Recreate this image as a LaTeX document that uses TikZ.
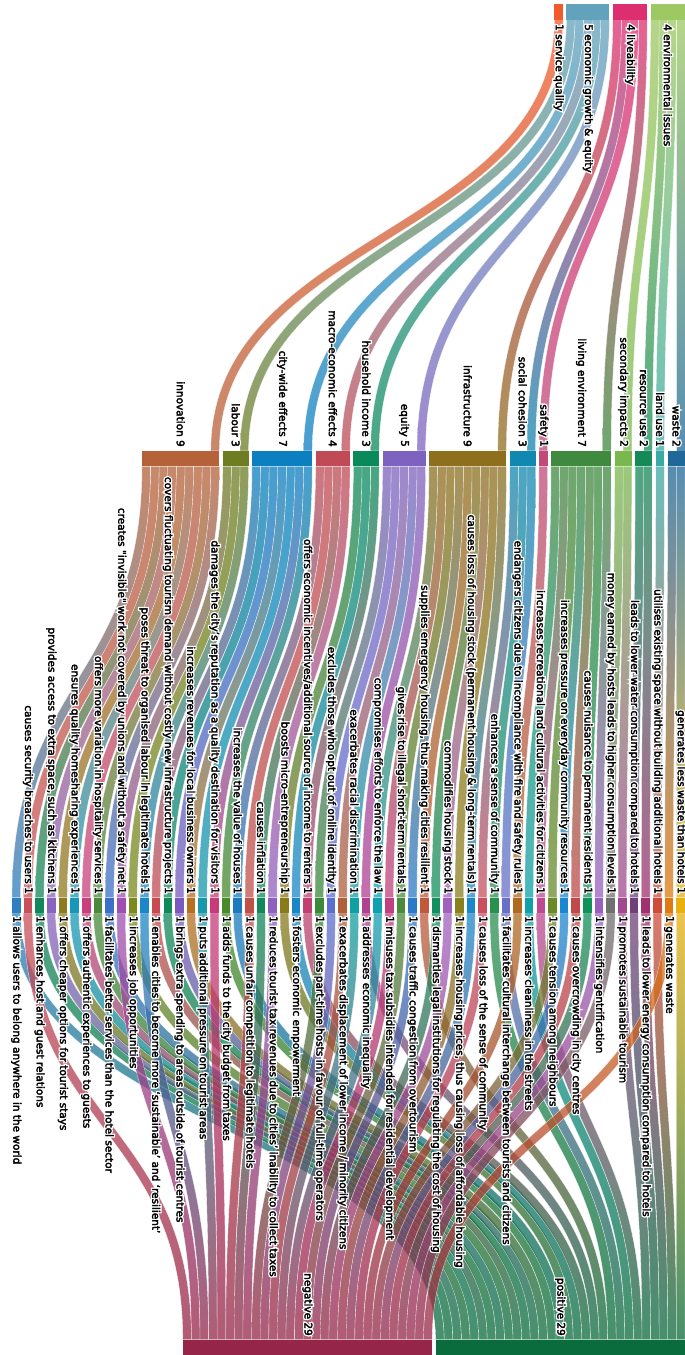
\documentclass[tikz,border=0pt]{standalone}
\usepackage{fontspec}
\setmainfont{DejaVu Sans}
\newfontfamily\textfam{DejaVu Sans}[FakeBold=3]
\newfontfamily\halofam{DejaVu Sans}[FakeBold=28]
\usetikzlibrary{calc}

\definecolor{cSQ}{HTML}{F25A2C}
\definecolor{cEG}{HTML}{62A2BC}
\definecolor{cLV}{HTML}{DD2E70}
\definecolor{cEI}{HTML}{9DC862}
\definecolor{cInno}{HTML}{B5623A}
\definecolor{cLab}{HTML}{6E7D22}
\definecolor{cCity}{HTML}{0B7FC0}
\definecolor{cMacro}{HTML}{C04A55}
\definecolor{cHouse}{HTML}{0A8A5A}
\definecolor{cEq}{HTML}{7E62BF}
\definecolor{cInfra}{HTML}{8E6F1E}
\definecolor{cSoc}{HTML}{1188B0}
\definecolor{cSaf}{HTML}{C04A7A}
\definecolor{cLiv}{HTML}{3F8A3F}
\definecolor{cSec}{HTML}{7AB84E}
\definecolor{cRes}{HTML}{158A58}
\definecolor{cLand}{HTML}{3AAAA5}
\definecolor{cWaste}{HTML}{1F6898}
\definecolor{cPos}{HTML}{0A6B3C}
\definecolor{cNeg}{HTML}{962649}

\newcommand\lfc[2]{\definecolor{lf#1}{HTML}{#2}}
\lfc{1}{2D7FC0}\lfc{2}{C8505A}\lfc{3}{12885A}\lfc{4}{8A62C0}\lfc{5}{8E7A20}
\lfc{6}{1898B8}\lfc{7}{C8407E}\lfc{8}{4A8A3A}\lfc{9}{3A70C8}\lfc{10}{A050B0}
\lfc{11}{7A8A20}\lfc{12}{1A88C8}\lfc{13}{C84A50}\lfc{14}{10885A}\lfc{15}{7A5AC0}
\lfc{16}{B87020}\lfc{17}{1898A8}\lfc{18}{C83A78}\lfc{19}{4A8A2A}\lfc{20}{1A7AC0}
\lfc{21}{C0504A}\lfc{22}{10885A}\lfc{23}{9060C0}\lfc{24}{8A7A1A}\lfc{25}{1A88C8}
\lfc{26}{C04070}\lfc{27}{3A8A3A}\lfc{28}{5A70D0}\lfc{29}{B0603A}\lfc{30}{10A0A0}
\lfc{31}{B04090}\lfc{32}{10A0B0}\lfc{33}{C04080}\lfc{34}{4A8A3A}\lfc{35}{2A7AC8}
\lfc{36}{C05A3A}\lfc{37}{109060}\lfc{38}{A060C0}\lfc{39}{8A8020}\lfc{40}{1A88C8}
\lfc{41}{C85060}\lfc{42}{2A9050}\lfc{43}{6A70C8}\lfc{44}{B06A20}\lfc{45}{10A0A8}
\lfc{46}{C04890}\lfc{47}{6A8A2A}\lfc{48}{1A88D0}\lfc{49}{C04A4A}\lfc{50}{10905A}
\lfc{51}{9A60C0}\lfc{52}{707070}\lfc{53}{A04890}\lfc{54}{70407A}\lfc{55}{A03070}
\lfc{56}{D04A3A}\lfc{57}{E07A10}\lfc{58}{E8B010}

\newcommand\lblsize{\fontsize{10.5}{12}\selectfont}
\tikzset{
  flowstyle/.style={opacity=0.75, draw=white, line width=0.35pt},
  bar/.style={draw=none, inner sep=0pt, minimum height=15.5pt},
  lbl/.style={font=\textfam\lblsize, inner sep=0pt, rotate=-90, text=black},
  halo/.style={font=\halofam\lblsize, inner sep=0pt, rotate=-90, text=white},
}

% flow: x-source, x-target, y-source, y-target, width, colour-source, colour-target
\newcommand\flow[7]{%
  \pgfmathsetmacro\fldx{(#2)-(#1)}%
  \pgfmathsetmacro\fldy{(#4)-(#3)}%
  \pgfmathsetmacro\flm{2*abs(\fldx)/\fldy}%
  \pgfmathsetmacro\flc{(sqrt(1+\flm*\flm)-1)/(0.75*max(\flm,0.001))}%
  \pgfmathsetmacro\flsg{\fldx<0 ? -1 : 1}%
  \pgfmathsetmacro\flv{\flsg*\flc*(#5)/2}%
  \pgfmathsetmacro\flh{(#5)/2}%
  \pgfmathsetmacro\flym{((#3)+(#4))/2}%
  \path[flowstyle, top color=#6, bottom color=#7]
    ({#1-\flh},#3) .. controls ({#1-\flh},{\flym+\flv}) and ({#2-\flh},{\flym+\flv}) .. ({#2-\flh},#4)
    -- ({#2+\flh},#4) .. controls ({#2+\flh},{\flym-\flv}) and ({#1+\flh},{\flym-\flv}) .. ({#1+\flh},#3) -- cycle;
}

% labels with white halo
\newcommand\lab[5]{%
  \node[halo, anchor=#4] (h#1) at (#2,#3) {#5};
  \node[lbl, anchor=#4] (#1) at (#2,#3) {#5};
}
\newcommand\leafA[2]{\pgfmathsetmacro\lcx{16.3+(#1-1)*11.656}\lab{ta#1}{\lcx}{894}{east}{#2 1}}
\newcommand\leafB[2]{\pgfmathsetmacro\lcx{16.3+(#1-1)*11.656}\lab{tb#1}{\lcx}{916}{west}{1 #2}}

\begin{document}
\begin{tikzpicture}[x=1pt, y=-1pt]
\useasboundingbox (0,0) rectangle (685,1355);
\fill[white] (0,0) rectangle (685,1355);

% ---------- flows level 0 -> level 1
\flow{558.7}{215.1}{19.5}{450.8}{8.6}{cSQ}{cInno}
\flow{570.7}{244.3}{19.5}{450.8}{8.6}{cEG}{cLab}
\flow{579.3}{307.9}{19.5}{450.8}{8.6}{cEG}{cCity}
\flow{587.9}{345.7}{19.5}{450.8}{8.6}{cEG}{cMacro}
\flow{596.5}{374.9}{19.5}{450.8}{8.6}{cEG}{cHouse}
\flow{605.1}{421.3}{19.5}{450.8}{8.6}{cEG}{cEq}
\flow{617.1}{502.1}{19.5}{450.8}{8.6}{cLV}{cInfra}
\flow{625.7}{531.3}{19.5}{450.8}{8.6}{cLV}{cSoc}
\flow{634.3}{543.3}{19.5}{450.8}{8.6}{cLV}{cSaf}
\flow{642.9}{606.9}{19.5}{450.8}{8.6}{cLV}{cLiv}
\flow{654.9}{627.5}{19.5}{450.8}{8.6}{cEI}{cSec}
\flow{663.5}{648.1}{19.5}{450.8}{8.6}{cEI}{cRes}
\flow{672.1}{660.1}{19.5}{450.8}{8.6}{cEI}{cLand}
\flow{680.7}{680.7}{19.5}{450.8}{8.6}{cEI}{cWaste}

% ---------- flows level 1 -> statements
\foreach \a/\f/\n/\col in {142/1/9/cInno, 222.8/10/3/cLab, 252/13/7/cCity,
   315.6/20/4/cMacro, 353.4/24/3/cHouse, 382.6/27/5/cEq, 429/32/9/cInfra,
   509.8/41/3/cSoc, 539/44/1/cSaf, 551/45/7/cLiv, 614.6/52/2/cSec,
   635.2/54/2/cRes, 655.8/56/1/cLand, 667.8/57/2/cWaste}{
  \pgfmathtruncatemacro\nm{\n-1}
  \foreach \j in {0,...,\nm}{
    \pgfmathtruncatemacro\lf{\f+\j}
    \pgfmathsetmacro\xs{\a+4.3+8.6*\j}
    \pgfmathsetmacro\xt{16.3+(\lf-1)*11.656}
    \flow{\xs}{\xt}{466.3}{897.5}{8.6}{\col}{lf\lf}
  }
}

% ---------- flows statements -> positive / negative
\foreach \lf [count=\m from 0] in {1,3,4,5,6,7,8,9,11,13,14,15,16,19,20,24,25,26,31,36,42,43,45,46,53,54,55,56,58}{
  \pgfmathsetmacro\xs{16.3+(\lf-1)*11.656}
  \pgfmathsetmacro\xt{435.6+4.3+8.6*\m}
  \flow{\xs}{\xt}{913}{1339.5}{8.6}{lf\lf}{cPos}
}
\foreach \lf [count=\m from 0] in {2,10,12,17,18,21,22,23,27,28,29,30,32,33,34,35,37,38,39,40,41,44,47,48,49,50,51,52,57}{
  \pgfmathsetmacro\xs{16.3+(\lf-1)*11.656}
  \pgfmathsetmacro\xt{182.8+4.3+8.6*\m}
  \flow{\xs}{\xt}{913}{1339.5}{8.6}{lf\lf}{cNeg}
}

% ---------- bars level 0
\node[bar, fill=cSQ, minimum width=8.6pt] (sq) at (558.7,11.75) {};
\node[bar, fill=cEG, minimum width=43pt] (eg) at (587.9,11.75) {};
\node[bar, fill=cLV, minimum width=34.4pt] (lv) at (630,11.75) {};
\node[bar, fill=cEI, minimum width=34.4pt] (ei) at (667.8,11.75) {};

% ---------- bars level 1
\node[bar, fill=cInno, minimum width=77.4pt] (inno) at (180.7,458.55) {};
\node[bar, fill=cLab, minimum width=25.8pt] (lab) at (235.7,458.55) {};
\node[bar, fill=cCity, minimum width=60.2pt] (city) at (282.1,458.55) {};
\node[bar, fill=cMacro, minimum width=34.4pt] (macro) at (332.8,458.55) {};
\node[bar, fill=cHouse, minimum width=25.8pt] (house) at (366.3,458.55) {};
\node[bar, fill=cEq, minimum width=43pt] (eq) at (404.1,458.55) {};
\node[bar, fill=cInfra, minimum width=77.4pt] (infra) at (467.7,458.55) {};
\node[bar, fill=cSoc, minimum width=25.8pt] (soc) at (522.7,458.55) {};
\node[bar, fill=cSaf, minimum width=8.6pt] (saf) at (543.3,458.55) {};
\node[bar, fill=cLiv, minimum width=60.2pt] (liv) at (581.1,458.55) {};
\node[bar, fill=cSec, minimum width=17.2pt] (sec) at (623.2,458.55) {};
\node[bar, fill=cRes, minimum width=17.2pt] (res) at (643.8,458.55) {};
\node[bar, fill=cLand, minimum width=8.6pt] (land) at (660.1,458.55) {};
\node[bar, fill=cWaste, minimum width=17.2pt] (waste) at (676.4,458.55) {};

% ---------- statement bars
\foreach \i in {1,...,58}{
  \pgfmathsetmacro\cx{16.3+(\i-1)*11.656}
  \node[bar, fill=lf\i, minimum width=8.6pt] (leaf\i) at (\cx,905.25) {};
}

% ---------- bars level 3
\node[bar, fill=cNeg, minimum width=249.4pt] (neg) at (307.5,1347.25) {};
\node[bar, fill=cPos, minimum width=249.4pt] (pos) at (560.3,1347.25) {};

% ---------- labels level 0
\lab{tsq}{558.7}{24}{west}{1 service quality}
\lab{teg}{587.9}{24}{west}{5 economic growth \& equity}
\lab{tlv}{630}{24}{west}{4 liveability}
\lab{tei}{667.8}{24}{west}{4 environmental issues}

% ---------- labels level 1
\lab{tinno}{180.7}{447}{east}{innovation 9}
\lab{tlab}{235.7}{447}{east}{labour 3}
\lab{tcity}{282.1}{447}{east}{city-wide effects 7}
\lab{tmacro}{332.8}{447}{east}{macro-economic effects 4}
\lab{thouse}{366.3}{447}{east}{household income 3}
\lab{teq}{404.1}{447}{east}{equity 5}
\lab{tinfra}{467.7}{447}{east}{infrastructure 9}
\lab{tsoc}{522.7}{447}{east}{social cohesion 3}
\lab{tsaf}{543.3}{447}{east}{safety 1}
\lab{tliv}{581.1}{447}{east}{living environment 7}
\lab{tsec}{623.2}{447}{east}{secondary impacts 2}
\lab{tres}{643.8}{447}{east}{resource use 2}
\lab{tland}{660.1}{447}{east}{land use 1}
\lab{twaste}{676.4}{447}{east}{waste 2}

% ---------- statement labels
\leafB{1}{allows users to belong anywhere in the world}
\leafA{2}{causes security breaches to users}
\leafB{3}{enhances host and guest relations}
\leafA{4}{provides access to extra space, such as kitchens}
\leafB{5}{offers cheaper options for tourist stays}
\leafA{6}{ensures quality homesharing experiences}
\leafB{7}{offers authentic experiences to guests}
\leafA{8}{offers more variation in hospitality services}
\leafB{9}{facilitates better services than the hotel sector}
\leafA{10}{creates "invisible" work not covered by unions and without a safety net}
\leafB{11}{increases job opportunities}
\leafA{12}{poses threat to organised labour in legitimate hotels}
\leafB{13}{enables cities to become more ‘sustainable’ and ‘resilient’}
\leafA{14}{covers fluctuating tourism demand without costly new infrastructure projects}
\leafB{15}{brings extra spending to areas outside of tourist centres}
\leafA{16}{increases revenues for local business owners}
\leafB{17}{puts additional pressure on tourist areas}
\leafA{18}{damages the city’s reputation as a quality destination for visitors}
\leafB{19}{adds funds to the city budget from taxes}
\leafA{20}{increases the value of houses}
\leafB{21}{causes unfair competition to legitimate hotels}
\leafA{22}{causes inflation}
\leafB{23}{reduces tourist tax revenues due to cities’ inability to collect taxes}
\leafA{24}{boosts micro-entrepreneurship}
\leafB{25}{fosters economic empowerment}
\leafA{26}{offers economic incentives/additional source of income to renters}
\leafB{27}{excludes part-time hosts in favour of full-time operators}
\leafA{28}{excludes those who opt out of online identity}
\leafB{29}{exacerbates displacement of lower income / minority citizens}
\leafA{30}{exacerbates racial discrimination}
\leafB{31}{addresses economic inequality}
\leafA{32}{compromises efforts to enforce the law}
\leafB{33}{misuses tax subsidies intended for residential development}
\leafA{34}{gives rise to illegal short-term rentals}
\leafB{35}{causes traffic congestion from overtourism}
\leafA{36}{supplies emergency housing, thus making cities resilient}
\leafB{37}{dismantles legal institutions for regulating the cost of housing}
\leafA{38}{commodifies housing stock}
\leafB{39}{increases housing prices, thus causing loss of affordable housing}
\leafA{40}{causes loss of housing stock (permanent housing \& long-term rentals)}
\leafB{41}{causes loss of the sense of community}
\leafA{42}{enhances a sense of community}
\leafB{43}{facilitates cultural interchange between tourists and citizens}
\leafA{44}{endangers citizens due to incompliance with fire and safety rules}
\leafB{45}{increases cleanliness in the streets}
\leafA{46}{increases recreational and cultural activities for citizens}
\leafB{47}{causes tension among neighbours}
\leafA{48}{increases pressure on everyday community resources}
\leafB{49}{causes overcrowding in city centres}
\leafA{50}{causes nuisance to permanent residents}
\leafB{51}{intensifies gentrification}
\leafA{52}{money earned by hosts leads to higher consumption levels}
\leafB{53}{promotes sustainable tourism}
\leafA{54}{leads to lower water consumption compared to hotels}
\leafB{55}{leads to lower energy consumption compared to hotels}
\leafA{56}{utilises existing space without building additional hotels}
\leafB{57}{generates waste}
\leafA{58}{generates less waste than hotels}

% ---------- labels level 3
\lab{tneg}{307.5}{1336}{east}{negative 29}
\lab{tpos}{560.3}{1336}{east}{positive 29}
\end{tikzpicture}
\end{document}
